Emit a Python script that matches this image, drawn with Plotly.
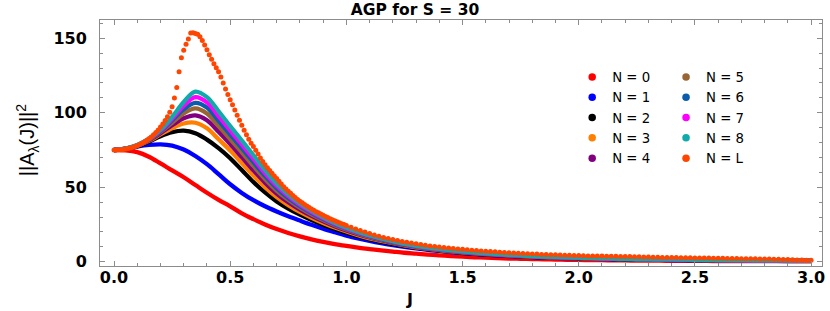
import numpy as np
import plotly.graph_objects as go

# ---------------- data ----------------
J = np.round(np.arange(0, 3.0001, 0.05), 2)   # grid for N = 0 ... 8

N0 = [75.0, 74.8, 73.6, 70.5, 66.0, 61.3, 56.7, 51.5, 46.3, 41.5,
      37.2, 32.5, 28.6, 25.0, 21.9, 19.3, 17.0, 15.0, 13.3, 11.8,
      10.6, 9.4, 8.5, 7.6, 6.8, 6.0, 5.4, 4.8, 4.3, 3.8,
      3.4, 3.0, 2.7, 2.4, 2.15, 1.95, 1.75, 1.6, 1.45, 1.3,
      1.2, 1.1, 1.0, 0.92, 0.85, 0.78, 0.72, 0.67, 0.62, 0.57,
      0.53, 0.5, 0.46, 0.43, 0.4, 0.38, 0.35, 0.33, 0.31, 0.29, 0.27]
N1 = [75.0, 75.8, 77.3, 78.4, 78.8, 78.0, 75.3, 71.0, 65.5, 58.8,
      52.0, 46.2, 41.3, 37.2, 33.7, 30.5, 27.6, 24.8, 22.2, 19.8,
      17.5, 15.6, 13.9, 12.4, 11.1, 9.9, 8.9, 8.0, 7.2, 6.5,
      5.8, 5.2, 4.7, 4.2, 3.8, 3.45, 3.1, 2.85, 2.6, 2.35,
      2.15, 1.95, 1.8, 1.65, 1.5, 1.4, 1.3, 1.2, 1.12, 1.04,
      0.97, 0.9, 0.84, 0.78, 0.73, 0.68, 0.64, 0.6, 0.56, 0.53, 0.5]
N2 = [75.0, 75.8, 77.6, 80.6, 84.3, 87.0, 88.0, 86.3, 82.0, 76.3,
      69.5, 61.5, 53.5, 46.5, 40.5, 35.7, 31.6, 28.0, 24.8, 21.9,
      19.4, 17.1, 15.1, 13.4, 11.9, 10.6, 9.4, 8.4, 7.5, 6.7,
      6.0, 5.4, 4.9, 4.4, 4.0, 3.6, 3.3, 3.0, 2.75, 2.5,
      2.3, 2.1, 1.95, 1.8, 1.65, 1.55, 1.45, 1.35, 1.25, 1.17,
      1.1, 1.03, 0.97, 0.91, 0.86, 0.81, 0.76, 0.72, 0.68, 0.64, 0.61]
N3 = [75.0, 75.8, 77.8, 81.1, 85.5, 89.6, 92.8, 93.3, 89.6, 82.2,
      74.7, 66.3, 57.8, 50.1, 43.4, 38.0, 33.4, 29.5, 26.0, 22.9,
      20.3, 17.8, 15.7, 14.0, 12.4, 11.0, 9.7, 8.7, 7.8, 6.9,
      6.2, 5.6, 5.1, 4.6, 4.1, 3.7, 3.4, 3.1, 2.85, 2.6,
      2.4, 2.2, 2.05, 1.9, 1.75, 1.62, 1.5, 1.4, 1.3, 1.22,
      1.15, 1.07, 1.01, 0.95, 0.9, 0.84, 0.79, 0.75, 0.71, 0.67, 0.63]
N4 = [75.0, 75.9, 77.9, 81.5, 86.3, 91.6, 96.3, 98.3, 95.0, 87.2,
      79.0, 70.2, 61.4, 53.1, 45.8, 39.9, 35.0, 30.8, 27.1, 23.8,
      21.0, 18.5, 16.3, 14.4, 12.7, 11.3, 10.0, 8.9, 8.0, 7.1,
      6.4, 5.8, 5.2, 4.7, 4.3, 3.9, 3.5, 3.2, 2.95, 2.7,
      2.5, 2.3, 2.1, 1.95, 1.8, 1.67, 1.55, 1.45, 1.35, 1.27,
      1.18, 1.11, 1.04, 0.98, 0.92, 0.87, 0.82, 0.77, 0.73, 0.69, 0.65]
N5 = [75.0, 75.9, 78.0, 81.8, 87.0, 93.3, 99.6, 102.9, 99.5, 91.1,
      82.4, 73.4, 64.3, 55.5, 47.7, 41.5, 36.2, 31.8, 27.9, 24.5,
      21.6, 19.0, 16.7, 14.8, 13.0, 11.6, 10.2, 9.1, 8.2, 7.3,
      6.5, 5.9, 5.3, 4.8, 4.4, 4.0, 3.6, 3.3, 3.0, 2.75,
      2.55, 2.35, 2.15, 2.0, 1.85, 1.7, 1.6, 1.5, 1.4, 1.3,
      1.22, 1.14, 1.07, 1.0, 0.95, 0.89, 0.84, 0.79, 0.75, 0.71, 0.67]
N6 = [75.0, 75.9, 78.1, 82.1, 87.6, 94.8, 102.3, 106.7, 103.5, 94.6,
      85.4, 76.2, 66.8, 57.6, 49.4, 42.8, 37.3, 32.7, 28.6, 25.1,
      22.1, 19.4, 17.1, 15.1, 13.3, 11.8, 10.4, 9.3, 8.3, 7.4,
      6.7, 6.0, 5.4, 4.9, 4.5, 4.1, 3.7, 3.4, 3.1, 2.8,
      2.6, 2.4, 2.2, 2.05, 1.88, 1.74, 1.63, 1.53, 1.43, 1.34,
      1.25, 1.17, 1.1, 1.03, 0.97, 0.92, 0.86, 0.81, 0.77, 0.72, 0.68]
N7 = [75.0, 76.0, 78.2, 82.3, 88.1, 96.0, 104.8, 110.5, 107.0, 97.8,
      88.2, 78.7, 69.2, 59.5, 51.0, 44.1, 38.3, 33.5, 29.3, 25.6,
      22.5, 19.8, 17.4, 15.4, 13.6, 12.0, 10.6, 9.4, 8.5, 7.6,
      6.8, 6.1, 5.5, 5.0, 4.5, 4.1, 3.7, 3.4, 3.15, 2.85,
      2.65, 2.45, 2.25, 2.08, 1.92, 1.77, 1.66, 1.56, 1.46, 1.37,
      1.28, 1.2, 1.13, 1.06, 1.0, 0.94, 0.88, 0.83, 0.78, 0.74, 0.7]
N8 = [75.0, 76.0, 78.3, 82.5, 88.6, 97.2, 107.2, 114.2, 110.5, 101.0,
      91.0, 81.3, 71.5, 61.5, 52.5, 45.3, 39.3, 34.3, 30.0, 26.2,
      23.0, 20.2, 17.8, 15.7, 13.8, 12.2, 10.8, 9.6, 8.6, 7.7,
      6.9, 6.2, 5.6, 5.1, 4.6, 4.2, 3.8, 3.5, 3.2, 2.9,
      2.7, 2.5, 2.3, 2.1, 1.95, 1.8, 1.7, 1.6, 1.5, 1.4,
      1.3, 1.22, 1.15, 1.08, 1.02, 0.96, 0.9, 0.85, 0.8, 0.76, 0.72]

# N = L : individually visible points (step 0.01 up to 1.0, then 0.02)
J_L = np.concatenate([np.round(np.arange(0, 1.0001, 0.01), 2),
                      np.round(np.arange(1.02, 3.0001, 0.02), 2)])
NL = [75.0, 75.0, 75.1, 75.2, 75.4, 75.7, 76.0, 76.4, 76.9, 77.4,
      78.0, 78.7, 79.5, 80.4, 81.4, 82.5, 83.8, 85.2, 86.8, 88.5,
      90.4, 92.5, 94.8, 97.4, 100.3, 104.0, 110.0, 117.0, 127.5, 137.0,
      142.0, 146.0, 149.5, 153.5, 153.8, 153.2, 152.8, 151.0, 148.5, 145.5,
      142.3, 139.0, 136.0, 133.0, 130.3, 127.6, 124.0, 120.0, 116.0, 112.3,
      108.8, 105.4, 101.9, 98.3, 95.0, 91.6, 88.3, 85.2, 82.2, 79.6,
      77.4, 74.9, 72.3, 69.7, 67.3, 65.1, 63.1, 61.3, 59.4, 57.6,
      55.9, 54.1, 52.2, 50.4, 48.8, 47.3, 45.9, 44.5, 43.1, 41.8,
      40.6, 39.5, 38.4, 37.4, 36.4, 35.4, 34.5, 33.6, 32.8, 32.0,
      31.2, 30.4, 29.6, 28.9, 28.2, 27.5, 26.8, 26.2, 25.5, 24.9,
      24.3,
      23.1, 22.0, 20.9, 19.9, 18.9, 18.0, 17.1, 16.3, 15.6, 14.9,
      14.2, 13.6, 13.0, 12.5, 12.0, 11.5, 11.0, 10.6, 10.2, 9.8,
      9.5, 9.2, 8.9, 8.6, 8.3, 8.0, 7.7, 7.5, 7.2, 7.0,
      6.8, 6.6, 6.4, 6.2, 6.0, 5.8, 5.7, 5.5, 5.4, 5.2,
      5.1, 4.9, 4.8, 4.7, 4.6, 4.5, 4.4, 4.3, 4.2, 4.1,
      4.0, 3.9, 3.85, 3.8, 3.75, 3.7, 3.65, 3.6, 3.55, 3.5,
      3.45, 3.4, 3.3, 3.2, 3.1, 3.0, 2.95, 2.9, 2.85, 2.8,
      2.75, 2.7, 2.65, 2.6, 2.55, 2.5, 2.45, 2.4, 2.35, 2.3,
      2.25, 2.2, 2.15, 2.1, 2.05, 2.0, 1.95, 1.9, 1.85, 1.8,
      1.75, 1.7, 1.6, 1.5, 1.4, 1.3, 1.2, 1.1, 1.0, 0.95]

names = ["N = 0", "N = 1", "N = 2", "N = 3", "N = 4",
         "N = 5", "N = 6", "N = 7", "N = 8", "N = L"]
colors = ["#FF0000", "#0000FF", "#000000", "#FF8000", "#800080",
          "#996633", "#0B5CAD", "#FF00FF", "#10AAAA", "#FF4500"]
dense = [N0, N1, N2, N3, N4, N5, N6, N7, N8]

x_ticks = [0.0, 0.5, 1.0, 1.5, 2.0, 2.5, 3.0]
y_ticks = [0, 50, 100, 150]

# ---------------- figure ----------------
fig = go.Figure()

for name, col, vals in zip(names[:9], colors[:9], dense):
    fig.add_trace(go.Scatter(x=J, y=vals, mode="lines",
                             line=dict(color=col, width=4.3, shape="spline"),
                             showlegend=False, hoverinfo="skip"))

fig.add_trace(go.Scatter(x=J_L, y=NL, mode="markers",
                         marker=dict(color=colors[9], size=5),
                         showlegend=False, hoverinfo="skip"))

# legend entries (dots), two columns
for i, (name, col) in enumerate(zip(names, colors)):
    fig.add_trace(go.Scatter(x=[None], y=[None], mode="markers", name=name,
                             marker=dict(color=col, size=7.5),
                             legend="legend" if i < 5 else "legend2",
                             legendgroup=name))

frame = "#8c8c8c"
tickfont = dict(family="DejaVu Sans", size=16, color="black", weight="bold")

fig.update_xaxes(range=[-0.0603, 3.047], tickvals=x_ticks,
                 ticktext=[f"{v:.1f}" for v in x_ticks],
                 ticks="inside", ticklen=5, tickcolor=frame, tickwidth=1,
                 minor=dict(ticks="inside", ticklen=3, dtick=0.1,
                            tickcolor=frame, tickwidth=1),
                 showline=True, linecolor=frame, linewidth=1, mirror="allticks",
                 showgrid=False, zeroline=False, tickfont=tickfont,
                 ticklabelstandoff=-3, automargin=False)
fig.update_yaxes(range=[-2.89, 162.3], tickvals=y_ticks,
                 ticks="inside", ticklen=5, tickcolor=frame, tickwidth=1,
                 minor=dict(ticks="inside", ticklen=3, dtick=10,
                            tickcolor=frame, tickwidth=1),
                 showline=True, linecolor=frame, linewidth=1, mirror="allticks",
                 showgrid=False, zeroline=False, tickfont=tickfont,
                 ticklabelstandoff=9, automargin=False)

legend_common = dict(font=dict(family="DejaVu Sans", size=13.3, color="black"),
                     bgcolor="rgba(0,0,0,0)", tracegroupgap=0,
                     itemsizing="trace", yanchor="top", xanchor="left")

fig.update_layout(
    width=830, height=311,
    margin=dict(l=100, r=8, t=20, b=45),
    plot_bgcolor="white", paper_bgcolor="white",
    title=dict(text="<b>AGP for S = 30</b>", x=0.5, xref="container",
               xanchor="center", y=0.968, yref="container", yanchor="middle",
               font=dict(family="DejaVu Sans", size=15.5, color="black")),
    legend=dict(x=0.654, y=0.83, **legend_common),
    legend2=dict(x=0.784, y=0.83, **legend_common),
    annotations=[
        dict(text="<b>J</b>", x=0.429, y=-0.09, xref="paper", yref="paper",
             xanchor="center", yanchor="top", showarrow=False,
             font=dict(family="DejaVu Sans", size=16, color="black")),
        dict(text="||A<sub>λ</sub>(J)||<sup>2</sup>", x=-0.101, y=0.512,
             xref="paper", yref="paper", textangle=-90, showarrow=False,
             xanchor="center", yanchor="middle",
             font=dict(family="Liberation Sans", size=20, color="black")),
    ],
)

fig.write_html("out.html",
               config={"displayModeBar": False},
               post_script="document.body.style.margin='0';"
                           "document.body.style.overflow='hidden';")
